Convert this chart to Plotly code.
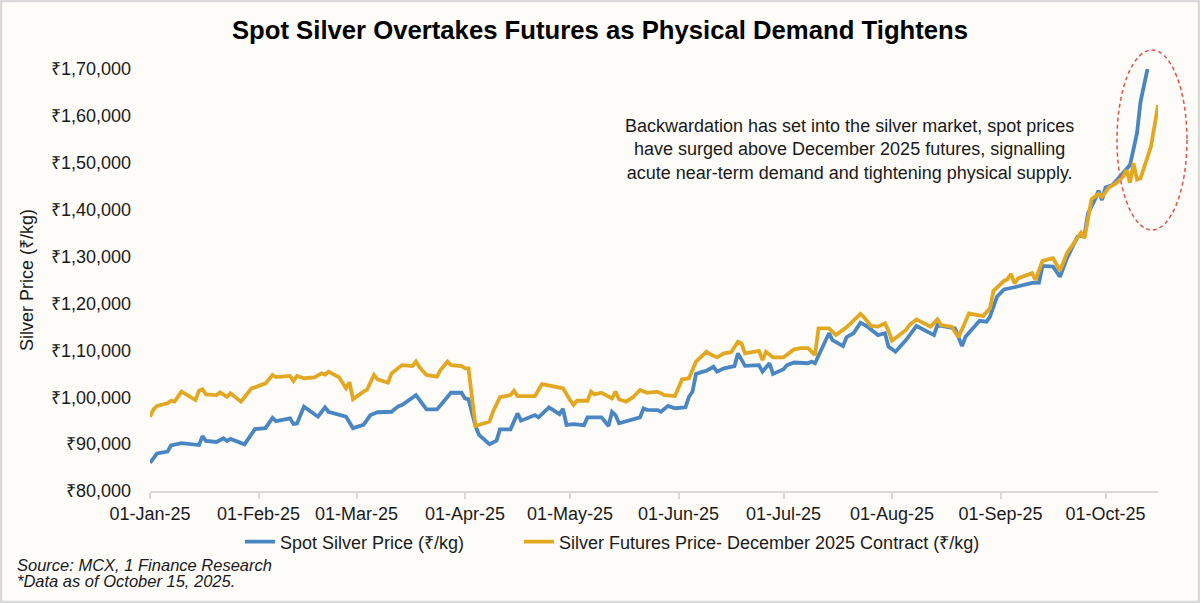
import plotly.graph_objects as go

# ---------------- DATA ----------------
spot_dates = [
    "2025-01-01", "2025-01-03", "2025-01-06", "2025-01-07", "2025-01-10", "2025-01-15", "2025-01-16",
    "2025-01-17", "2025-01-20", "2025-01-22", "2025-01-23", "2025-01-24", "2025-01-28", "2025-01-31",
    "2025-02-03", "2025-02-05", "2025-02-06", "2025-02-10", "2025-02-11", "2025-02-12", "2025-02-14",
    "2025-02-18", "2025-02-20", "2025-02-21", "2025-02-26", "2025-02-28", "2025-03-03", "2025-03-05",
    "2025-03-07", "2025-03-11", "2025-03-13", "2025-03-14", "2025-03-18", "2025-03-21", "2025-03-24",
    "2025-03-25", "2025-03-28", "2025-03-31", "2025-04-01", "2025-04-02", "2025-04-04", "2025-04-05",
    "2025-04-08", "2025-04-10", "2025-04-11", "2025-04-14", "2025-04-16", "2025-04-17", "2025-04-21",
    "2025-04-22", "2025-04-25", "2025-04-28", "2025-04-29", "2025-04-30", "2025-05-02", "2025-05-05",
    "2025-05-06", "2025-05-10", "2025-05-12", "2025-05-13", "2025-05-14", "2025-05-15", "2025-05-21",
    "2025-05-22", "2025-05-23", "2025-05-26", "2025-05-27", "2025-05-29", "2025-05-31", "2025-06-03",
    "2025-06-04", "2025-06-05", "2025-06-06", "2025-06-08", "2025-06-09", "2025-06-11", "2025-06-12",
    "2025-06-14", "2025-06-17", "2025-06-18", "2025-06-20", "2025-06-24", "2025-06-25", "2025-06-27",
    "2025-06-28", "2025-07-01", "2025-07-02", "2025-07-04", "2025-07-08", "2025-07-09", "2025-07-10",
    "2025-07-12", "2025-07-14", "2025-07-15", "2025-07-18", "2025-07-19", "2025-07-21", "2025-07-23",
    "2025-07-25", "2025-07-28", "2025-07-30", "2025-07-31", "2025-08-02", "2025-08-05", "2025-08-08",
    "2025-08-13", "2025-08-14", "2025-08-19", "2025-08-21", "2025-08-22", "2025-08-26", "2025-08-28",
    "2025-08-29", "2025-08-31", "2025-09-02", "2025-09-05", "2025-09-10", "2025-09-12", "2025-09-13",
    "2025-09-16", "2025-09-18", "2025-09-20", "2025-09-23", "2025-09-25", "2025-09-26", "2025-09-28",
    "2025-09-29", "2025-09-30", "2025-10-01", "2025-10-03", "2025-10-06", "2025-10-08", "2025-10-10",
    "2025-10-11", "2025-10-13",
]
spot_values = [
    86000, 88000, 88400, 89700, 90200, 89800, 91700,
    90700, 90450, 91250, 90650, 91100, 89950, 93200,
    93400, 95600, 94900, 95500, 94300, 94400, 98000,
    95850, 97850, 96900, 95850, 93400, 94100, 96200,
    96800, 96900, 98100, 98350, 100450, 97400, 97400,
    98350, 100950, 100950, 99750, 99550, 93850, 91950,
    90000, 90750, 93150, 93150, 96550, 95000, 96200,
    95700, 97850, 96400, 97500, 94100, 94250, 94050,
    95700, 95700, 93850, 96900, 96200, 94450, 95700,
    97600, 97300, 97250, 96900, 98150, 97650, 97850,
    100100, 101200, 104950, 105450, 105650, 106500, 105450,
    106150, 106650, 109350, 106700, 106850, 105450, 107250,
    104950, 105950, 106850, 107400, 107250, 107600, 107250,
    110450, 113650, 112200, 110900, 112800, 113650, 115900,
    115050, 113250, 113650, 110800, 109700, 112200, 115200,
    113250, 115400, 114700, 110900, 112900, 116300, 116100,
    117200, 121450, 123000, 123450, 124400, 124450, 128000,
    127850, 125700, 129650, 134250, 134600, 139200, 142200,
    144050, 142050, 144750, 145250, 147750, 149500, 156300,
    163000, 170000,
]

futures_dates = [
    "2025-01-01", "2025-01-02", "2025-01-03", "2025-01-06", "2025-01-07", "2025-01-08", "2025-01-10",
    "2025-01-14", "2025-01-15", "2025-01-16", "2025-01-17", "2025-01-20", "2025-01-21", "2025-01-23",
    "2025-01-24", "2025-01-27", "2025-01-30", "2025-01-31", "2025-02-03", "2025-02-05", "2025-02-06",
    "2025-02-10", "2025-02-11", "2025-02-12", "2025-02-14", "2025-02-17", "2025-02-19", "2025-02-20",
    "2025-02-21", "2025-02-24", "2025-02-25", "2025-02-26", "2025-02-27", "2025-02-28", "2025-03-03",
    "2025-03-04", "2025-03-06", "2025-03-07", "2025-03-10", "2025-03-11", "2025-03-14", "2025-03-17",
    "2025-03-18", "2025-03-19", "2025-03-21", "2025-03-24", "2025-03-25", "2025-03-27", "2025-03-28",
    "2025-03-31", "2025-04-01", "2025-04-02", "2025-04-04", "2025-04-08", "2025-04-09", "2025-04-11",
    "2025-04-14", "2025-04-15", "2025-04-16", "2025-04-21", "2025-04-23", "2025-04-26", "2025-04-29",
    "2025-05-01", "2025-05-02", "2025-05-03", "2025-05-06", "2025-05-07", "2025-05-08", "2025-05-10",
    "2025-05-13", "2025-05-14", "2025-05-15", "2025-05-17", "2025-05-19", "2025-05-21", "2025-05-23",
    "2025-05-26", "2025-05-28", "2025-05-31", "2025-06-02", "2025-06-04", "2025-06-06", "2025-06-09",
    "2025-06-10", "2025-06-12", "2025-06-14", "2025-06-16", "2025-06-18", "2025-06-19", "2025-06-20",
    "2025-06-24", "2025-06-25", "2025-06-26", "2025-06-28", "2025-07-01", "2025-07-04", "2025-07-06",
    "2025-07-08", "2025-07-10", "2025-07-11", "2025-07-14", "2025-07-16", "2025-07-19", "2025-07-23",
    "2025-07-24", "2025-07-26", "2025-07-28", "2025-07-30", "2025-07-31", "2025-08-01", "2025-08-05",
    "2025-08-06", "2025-08-08", "2025-08-12", "2025-08-14", "2025-08-15", "2025-08-18", "2025-08-20",
    "2025-08-23", "2025-08-27", "2025-08-29", "2025-08-30", "2025-09-02", "2025-09-03", "2025-09-04",
    "2025-09-05", "2025-09-06", "2025-09-10", "2025-09-11", "2025-09-13", "2025-09-16", "2025-09-18",
    "2025-09-20", "2025-09-24", "2025-09-25", "2025-09-27", "2025-09-29", "2025-09-30", "2025-10-02",
    "2025-10-04", "2025-10-06", "2025-10-07", "2025-10-08", "2025-10-09", "2025-10-10", "2025-10-11",
    "2025-10-14", "2025-10-16",
]
futures_values = [
    95850, 97400, 98150, 98700, 99250, 99050, 101200,
    99400, 101400, 101700, 100600, 100450, 101050, 100100,
    100850, 99050, 101900, 102100, 102950, 104750, 104300,
    104550, 103450, 104550, 104050, 104250, 105100, 104800,
    105450, 104250, 103100, 101900, 103200, 99550, 101200,
    101600, 104750, 103800, 103100, 105100, 106850, 106650,
    107600, 106400, 104750, 104400, 105800, 107600, 106850,
    106650, 106150, 106150, 93850, 94800, 96900, 100000,
    100450, 101400, 100250, 100250, 102800, 102400, 101900,
    99400, 98350, 99250, 99250, 101200, 100600, 100950,
    99750, 101200, 99550, 99050, 100000, 101550, 100950,
    101200, 100450, 100250, 103800, 104050, 107600, 109700,
    109200, 108500, 109350, 109600, 111850, 111500, 109350,
    109900, 107950, 109700, 108500, 108500, 110200, 110450,
    110450, 109000, 114700, 114700, 113250, 114900, 117750,
    117050, 115200, 115050, 115750, 114200, 112050, 114350,
    115400, 116600, 115050, 116600, 115400, 115050, 112800,
    117900, 117300, 118950, 122700, 124800, 125150, 126300,
    124300, 125350, 126450, 125000, 129100, 129650, 127000,
    130700, 135100, 133900, 142200, 143350, 142750, 144750,
    145600, 147050, 148450, 145750, 149900, 146450, 146700,
    153450, 162300,
]

y_tick_values = [80000, 90000, 100000, 110000, 120000, 130000, 140000, 150000, 160000, 170000]
y_tick_labels = ["₹80,000", "₹90,000", "₹1,00,000", "₹1,10,000", "₹1,20,000",
                 "₹1,30,000", "₹1,40,000", "₹1,50,000", "₹1,60,000", "₹1,70,000"]

series_names = ["Spot Silver Price (₹/kg)", "Silver Futures Price- December 2025 Contract (₹/kg)"]
title_text = "Spot Silver Overtakes Futures as Physical Demand Tightens"
note_text = ("Backwardation has set into the silver market, spot prices<br>"
             "have surged above December 2025 futures, signalling<br>"
             "acute near-term demand and tightening physical supply.")
source_lines = ["Source: MCX, 1 Finance Research", "*Data as of October 15, 2025."]

# ---------------- LAYOUT HELPERS ----------------
W, H = 1200, 603
ML, MR, MT, MB = 150, 42, 69, 112
PW, PH = W - ML - MR, H - MT - MB
FONT = "Liberation Sans, Arial, sans-serif"


def px(x):
    return (x - ML) / PW


def py(y):
    return (H - MB - y) / PH


BLUE = "#4A86C1"
GOLD = "#E3A822"
BG = "#FDFCF8"
TXT = "#1a1a1a"

fig = go.Figure()
fig.add_trace(go.Scatter(x=spot_dates, y=spot_values, mode="lines", name=series_names[0],
                         line=dict(color=BLUE, width=3.8), legend="legend"))
fig.add_trace(go.Scatter(x=futures_dates, y=futures_values, mode="lines", name=series_names[1],
                         line=dict(color=GOLD, width=3.8), legend="legend2"))

legend_common = dict(orientation="h", yanchor="middle", y=py(542), xanchor="left",
                     font=dict(size=18, color=TXT), bgcolor="rgba(0,0,0,0)")

fig.update_layout(
    width=W, height=H,
    margin=dict(l=ML, r=MR, t=MT, b=MB, autoexpand=False),
    paper_bgcolor=BG, plot_bgcolor=BG,
    font=dict(family=FONT, size=18, color=TXT),
    showlegend=True,
    legend=dict(x=px(240), **legend_common),
    legend2=dict(x=px(519), **legend_common),
    title=dict(text="<b>" + title_text + "</b>", x=(600 - ML) / PW, xref="paper", xanchor="center",
               y=1 - 30 / H, yanchor="middle", font=dict(size=25.7, color="#000000", family=FONT)),
)

fig.update_xaxes(
    type="date", range=["2025-01-01", "2025-10-16"],
    tick0="2025-01-01", dtick="M1", tickformat="%d-%b-%y",
    showgrid=False, zeroline=False,
    showline=True, linecolor="#D9D9D9", linewidth=1.5,
    ticks="outside", ticklen=6, tickcolor="#D9D9D9", tickwidth=1.5,
    tickfont=dict(size=18, color=TXT),
)
fig.update_yaxes(
    range=[80000, 170000],
    tickvals=y_tick_values, ticktext=y_tick_labels,
    showgrid=False, zeroline=False, showline=False, ticks="",
    ticklabelstandoff=18,
    tickfont=dict(size=18, color=TXT),
    title=dict(text="Silver Price (₹/kg)", font=dict(size=18, color=TXT), standoff=12),
)

# annotation note
fig.add_annotation(text=note_text, xref="paper", yref="paper", x=px(849), y=py(149),
                   xanchor="center", yanchor="middle", align="center", showarrow=False,
                   font=dict(size=18, color=TXT))
# source lines
fig.add_annotation(text="<i>" + source_lines[0] + "</i>", xref="paper", yref="paper",
                   x=px(15), y=py(565), xanchor="left", yanchor="middle", showarrow=False,
                   font=dict(size=16.5, color=TXT))
fig.add_annotation(text="<i>" + source_lines[1] + "</i>", xref="paper", yref="paper",
                   x=px(15), y=py(581), xanchor="left", yanchor="middle", showarrow=False,
                   font=dict(size=16.5, color=TXT))

# dashed ellipse highlighting the end of the series
fig.add_shape(type="circle", xref="paper", yref="paper",
              x0=px(1117), x1=px(1187), y0=py(230), y1=py(50),
              line=dict(color="#D9534A", width=1.5, dash="4px,3px"), fillcolor="rgba(0,0,0,0)")

# outer border
fig.add_shape(type="rect", xref="paper", yref="paper",
              x0=px(1), x1=px(W - 1), y0=py(H - 1), y1=py(1),
              line=dict(color="#D9D9D9", width=2.5), fillcolor="rgba(0,0,0,0)", layer="below")

fig.write_html("out.html", config={"displayModeBar": False},
               post_script="document.body.style.margin='0';")
